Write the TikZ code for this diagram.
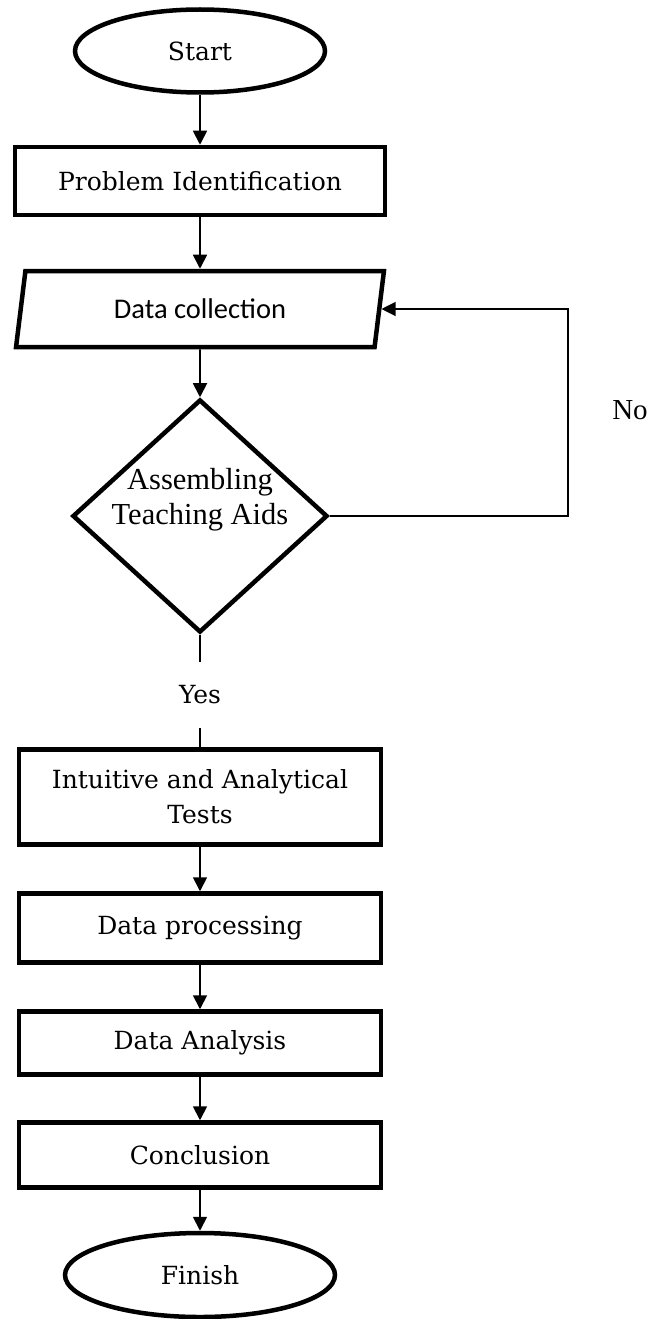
\documentclass[tikz,border=0pt]{standalone}
\usepackage{fontspec}
\setmainfont{DejaVu Serif}
\newfontfamily\timesfont{Liberation Serif}
\newfontfamily\calibrifont{Carlito}
\usetikzlibrary{arrows.meta,shapes.geometric,positioning}

\begin{document}
\begin{tikzpicture}[x=1pt,y=-1pt,->,>={Triangle[width=14pt,length=14pt]},
line width=1.8pt,node distance=120pt]
\tikzstyle{terminal}=[ellipse,draw,line width=4.5pt,minimum width=250pt,
  minimum height=83pt,inner sep=0pt,font=\fontsize{25}{30}\selectfont]
\tikzstyle{process}=[rectangle,draw,line width=4.5pt,minimum width=362pt,
  align=center,inner sep=0pt,font=\fontsize{25}{35}\selectfont]
\tikzstyle{io}=[trapezium,trapezium left angle=77,trapezium right angle=103,
  trapezium stretches=true,draw,line width=4.5pt,minimum width=368pt,
  minimum height=76pt,inner sep=0pt,font=\calibrifont\fontsize{28.5}{34}\selectfont]
\tikzstyle{decision}=[diamond,draw,line width=4.5pt,minimum width=255pt,
  minimum height=233pt,inner sep=0pt]
\useasboundingbox (0,0) rectangle (652,1319);
\node[terminal] (start) at (200,51) {Start};
\node[process,minimum width=370pt,minimum height=68pt] (problem)
  [below of=start,node distance=130pt] {Problem Identification};
\node[io] (collect) [below of=problem,node distance=128pt] {Data collection};
\node[decision] (assemble) [below of=collect,node distance=207pt] {};
\node[align=center,font=\timesfont\fontsize{30.5}{35}\selectfont] (assemblelabel)
  at ([yshift=16pt]assemble.center) {Assembling\\Teaching Aids};
\node[inner sep=0pt,minimum height=64pt,font=\fontsize{25}{30}\selectfont] (yes)
  [below of=assemble,node distance=179pt] {Yes};
\node[process,minimum height=95pt] (tests) [below of=yes,node distance=102pt]
  {Intuitive and Analytical\\Tests};
\node[process,minimum height=69pt] (processing) [below of=tests,node distance=131pt]
  {Data processing};
\node[process,minimum height=63pt] (analysis) [below of=processing,node distance=115pt]
  {Data Analysis};
\node[process,minimum height=65pt] (conclusion) [below of=analysis,node distance=112pt]
  {Conclusion};
\node[terminal,minimum width=270pt,minimum height=84pt] (finish)
  [below of=conclusion,node distance=120pt] {Finish};
\coordinate (turn) at (568,516);
\node[font=\timesfont\fontsize{29}{34}\selectfont] (no) at (630,410) {No};
\path (start) edge (problem)
      (problem) edge (collect)
      (collect) edge (assemble)
      (tests) edge (processing)
      (processing) edge (analysis)
      (analysis) edge (conclusion)
      (conclusion) edge (finish);
\draw[-] (assemble) -- (yes) -- (tests);
\draw[line width=1.2pt] (assemble.east) -- (turn) |- (collect.east);
\end{tikzpicture}
\end{document}
